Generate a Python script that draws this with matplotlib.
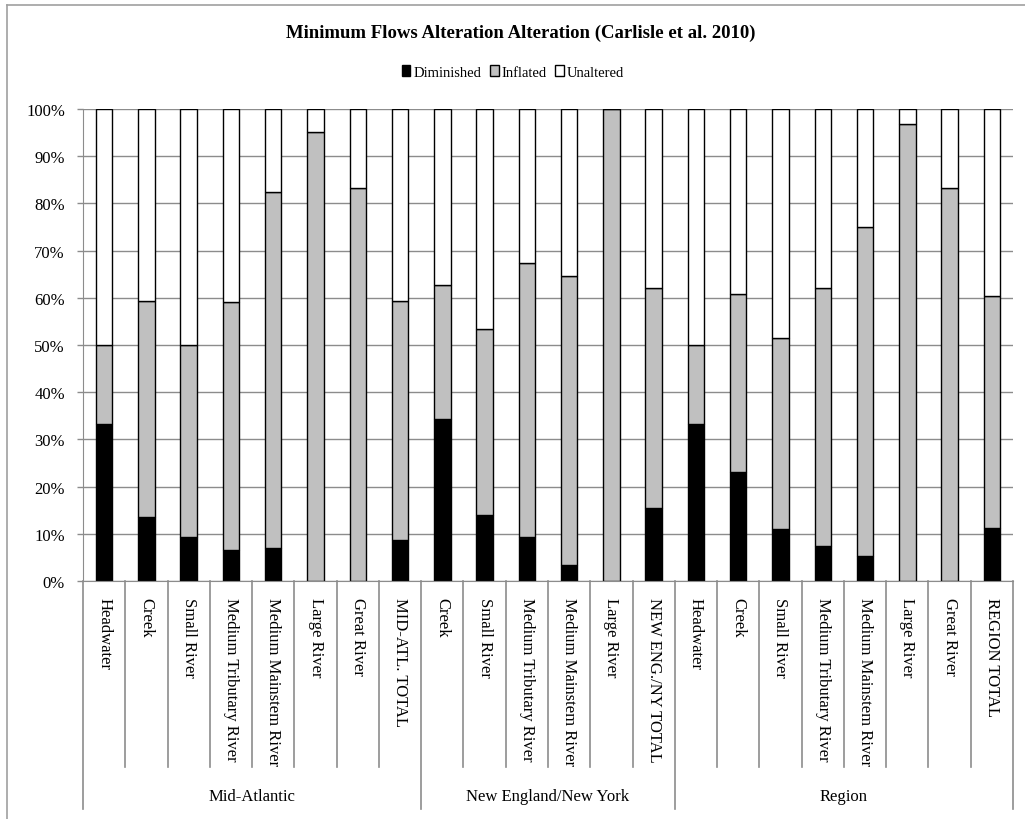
import matplotlib
matplotlib.use("Agg")
import matplotlib.pyplot as plt
from matplotlib.patches import Patch
from matplotlib.lines import Line2D
import numpy as np

plt.rcParams['font.family'] = ['Liberation Serif', 'DejaVu Serif']

# Categorias (clase de rio) y grupos
categorias = ['Headwater', 'Creek', 'Small River', 'Medium Tributary River',
              'Medium Mainstem River', 'Large River', 'Great River', 'MID-ATL. TOTAL',
              'Creek', 'Small River', 'Medium Tributary River', 'Medium Mainstem River',
              'Large River', 'NEW ENG./NY TOTAL',
              'Headwater', 'Creek', 'Small River', 'Medium Tributary River',
              'Medium Mainstem River', 'Large River', 'Great River', 'REGION TOTAL']
grupos = ['Mid-Atlantic', 'New England/New York', 'Region']
grupo_n = [8, 6, 8]

# Porcentajes por categoria
diminished = [33.3, 13.5, 9.4, 6.6, 7.0, 0.0, 0.0, 8.7,
              34.4, 13.9, 9.4, 3.3, 0.0, 15.5,
              33.3, 23.1, 11.1, 7.4, 5.2, 0.0, 0.0, 11.3]
inflated = [16.7, 45.9, 40.6, 52.5, 75.4, 95.2, 83.3, 50.7,
            28.3, 39.5, 58.0, 61.3, 100.0, 46.5,
            16.7, 37.6, 40.4, 54.6, 69.8, 96.8, 83.3, 49.1]
unaltered = [50.0, 40.6, 50.0, 40.9, 17.6, 4.8, 16.7, 40.6,
             37.3, 46.6, 32.6, 35.4, 0.0, 38.0,
             50.0, 39.3, 48.5, 38.0, 25.0, 3.2, 16.7, 39.6]

W, H = 1025, 820
fig = plt.figure(figsize=(W / 100, H / 100), dpi=100)
ax = fig.add_axes([83 / W, 1 - 582 / H, (1013 - 83) / W, (582 - 110) / H])

x = np.arange(len(categorias))
ancho = 0.39
dim = np.array(diminished)
inf = np.array(inflated)
una = np.array(unaltered)
kw = dict(width=ancho, edgecolor='black', linewidth=1.0, zorder=3)
ax.bar(x, dim, color='black', label='Diminished', **kw)
ax.bar(x, inf, bottom=dim, color='#c0c0c0', label='Inflated', **kw)
ax.bar(x, una, bottom=dim + inf, color='white', label='Unaltered', **kw)

ax.set_xlim(-0.5, len(categorias) - 0.5)
ax.set_ylim(0, 100)
ax.set_yticks(np.arange(0, 101, 10))
ax.set_yticklabels([f'{v}%' for v in range(0, 101, 10)], fontsize=12)
ax.tick_params(axis='y', length=4, width=1, color='#8c8c8c', pad=9)
ax.set_xticks([])
ax.yaxis.grid(True, color='#8c8c8c', linewidth=1, zorder=0)
ax.set_axisbelow(True)
for s in ['top', 'right']:
    ax.spines[s].set_visible(False)
ax.spines['left'].set_color('#8c8c8c')
ax.spines['bottom'].set_color('#8c8c8c')
ax.spines['bottom'].set_zorder(4)

# Lineas separadoras del eje categorico
trans = ax.get_xaxis_transform()
y_cat = -(768 - 582) / 472
y_grp = -(810 - 582) / 472
bordes_grupo = np.cumsum([0] + grupo_n) - 0.5
for b in np.arange(len(categorias) + 1) - 0.5:
    y_fin = y_grp if b in bordes_grupo else y_cat
    ax.add_line(Line2D([b, b], [0, y_fin], transform=trans, color='#8c8c8c',
                       linewidth=1.2, clip_on=False))

for xi, cat in zip(x, categorias):
    ax.text(xi, -16 / 472, cat, transform=trans, rotation=270, ha='center',
            va='top', fontsize=12)

for i, g in enumerate(grupos):
    centro = (bordes_grupo[i] + bordes_grupo[i + 1]) / 2
    ax.text(centro, -(797 - 582) / 472, g, transform=trans, ha='center',
            va='center', fontsize=12)

fig.text(521 / W, 1 - 33 / H, 'Minimum Flows Alteration Alteration (Carlisle et al. 2010)',
         ha='center', va='center', fontsize=13.5, fontweight='bold')

handles = [Patch(facecolor='black', edgecolor='black', label='Diminished'),
           Patch(facecolor='#c0c0c0', edgecolor='black', label='Inflated'),
           Patch(facecolor='white', edgecolor='black', label='Unaltered')]
fig.legend(handles=handles, loc='center', bbox_to_anchor=(513 / W, 1 - 73 / H),
           ncol=3, frameon=False, fontsize=10.5, handlelength=0.6, handleheight=0.8,
           handletextpad=0.2, columnspacing=0.6)

# Marco del area del grafico
fig.add_artist(Line2D([7 / W, 7 / W], [0, 1 - 6 / H], color='#a0a0a0', linewidth=1.2))
fig.add_artist(Line2D([7 / W, 1], [1 - 6 / H, 1 - 6 / H], color='#a0a0a0', linewidth=1.2))

fig.savefig('out.png', dpi=100)
